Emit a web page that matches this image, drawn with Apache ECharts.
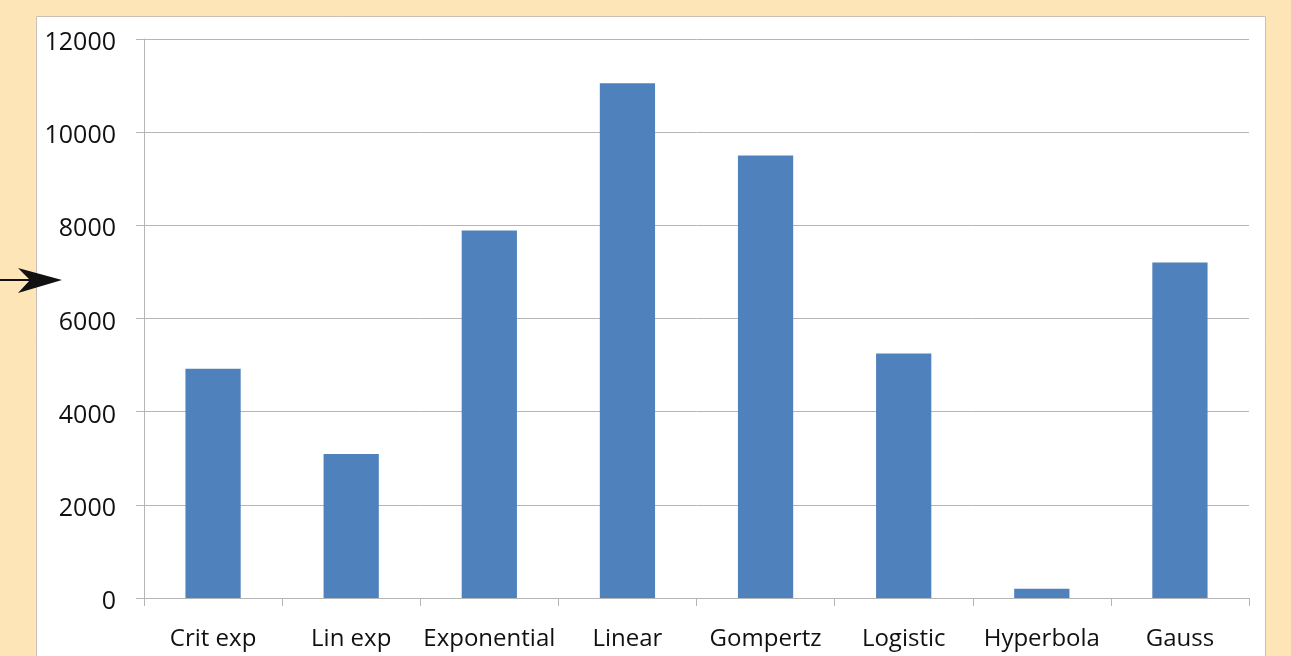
<!DOCTYPE html>
<html>
<head>
<meta charset="utf-8">
<script src="https://cdn.jsdelivr.net/npm/echarts@6/dist/echarts.min.js"></script>
<style>
  html, body { margin: 0; padding: 0; background: #FDE5B8; }
  #chart { width: 1291px; height: 656px; }
</style>
</head>
<body>
<div id="chart"></div>
<script>
// Model names along the x axis
const categories = ['Crit exp', 'Lin exp', 'Exponential', 'Linear', 'Gompertz', 'Logistic', 'Hyperbola', 'Gauss'];
// Score for each model
const values = [4920, 3090, 7890, 11050, 9500, 5250, 200, 7200];
// Value axis range
const yMin = 0;
const yMax = 12000;
const yStep = 2000;

const chart = echarts.init(document.getElementById('chart'));
const font = '"Open Sans", "DejaVu Sans", sans-serif';

chart.setOption({
  backgroundColor: '#FDE5B8',
  animation: false,
  graphic: [
    {
      type: 'rect',
      z: -10,
      shape: { x: 36.5, y: 16.5, width: 1229, height: 660 },
      style: { fill: '#ffffff', stroke: '#c9c2b4', lineWidth: 1 }
    },
    {
      type: 'line',
      z: 10,
      shape: { x1: 0, y1: 280, x2: 40, y2: 280 },
      style: { stroke: '#111111', lineWidth: 2 }
    },
    {
      type: 'polygon',
      z: 10,
      shape: { points: [[62, 280], [18, 268], [30, 280], [18, 293]] },
      style: { fill: '#111111' }
    }
  ],
  grid: { left: 144, right: 42, top: 39, bottom: 58, containLabel: false },
  xAxis: {
    type: 'category',
    data: categories,
    boundaryGap: true,
    axisLine: { show: true, lineStyle: { color: '#b5b5b5', width: 1 } },
    axisTick: { show: true, alignWithLabel: false, length: 8, lineStyle: { color: '#b5b5b5' } },
    axisLabel: { color: '#111111', fontFamily: font, fontSize: 24, margin: 29, interval: 0 },
    splitLine: { show: false }
  },
  yAxis: {
    type: 'value',
    min: yMin,
    max: yMax,
    interval: yStep,
    axisLine: { show: true, lineStyle: { color: '#b5b5b5', width: 1 } },
    axisTick: { show: true, length: 8, lineStyle: { color: '#b5b5b5' } },
    axisLabel: {
      margin: 28,
      formatter: (v) => '{n|' + v + '}',
      rich: {
        n: { color: '#111111', fontFamily: font, fontSize: 25, padding: [8, 0, 0, 0] }
      }
    },
    splitLine: { show: true, lineStyle: { color: '#b5b5b5', width: 1 } }
  },
  series: [{
    type: 'bar',
    data: values,
    barWidth: '40%',
    itemStyle: { color: '#4F81BD' }
  }]
});
</script>
</body>
</html>
